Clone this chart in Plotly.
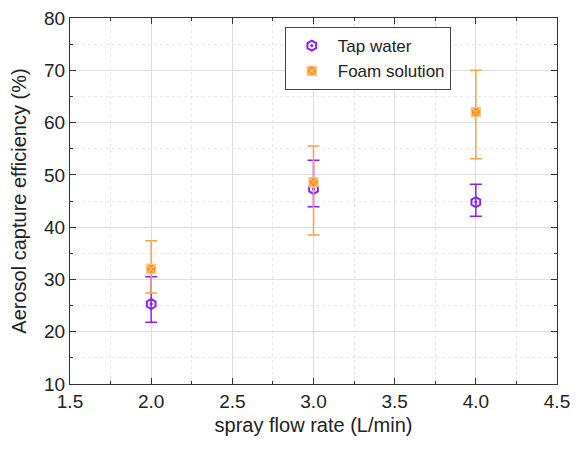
import plotly.graph_objects as go

x_vals = [2.0, 3.0, 4.0]
tap_y = [25.3, 47.3, 44.8]
tap_err_plus = [5.2, 5.5, 3.4]
tap_err_minus = [3.5, 3.4, 2.7]
foam_y = [32.0, 48.6, 62.0]
foam_err_plus = [5.4, 6.9, 8.0]
foam_err_minus = [4.6, 10.1, 8.9]

FONT = "Liberation Sans, Arial"

fig = go.Figure()
fig.add_trace(go.Scatter(
    x=x_vals, y=tap_y, mode="markers", name="Tap water",
    marker=dict(symbol="hexagon-open-dot", size=10, color="#8B1EFF", line=dict(width=2, color="#8B1EFF")),
    error_y=dict(type="data", symmetric=False, array=tap_err_plus, arrayminus=tap_err_minus,
                 color="#8B1EFF", thickness=1.5, width=6),
))
fig.add_trace(go.Scatter(
    x=x_vals, y=foam_y, mode="markers", name="Foam solution",
    marker=dict(symbol="square-x", size=9, color="#FF8C1A", line=dict(width=1.2, color="#FFC27A")),
    error_y=dict(type="data", symmetric=False, array=foam_err_plus, arrayminus=foam_err_minus,
                 color="#FFA040", thickness=1.5, width=6),
))

axis_common = dict(
    showline=True, linecolor="#333", linewidth=1.2, mirror="ticks",
    ticks="inside", ticklen=6, tickcolor="#333",
    showgrid=True, gridcolor="#dddddd", gridwidth=1,
    zeroline=False, automargin=False, ticklabeloverflow="allow",
    tickfont=dict(size=19, color="#222", family=FONT),
)
fig.update_xaxes(range=[1.5, 4.5], dtick=0.5, tickformat=".1f",
                 title=dict(text="spray flow rate (L/min)", font=dict(size=20, color="#222", family=FONT), standoff=7),
                 minor=dict(dtick=0.25, ticks="inside", ticklen=3, tickcolor="#333",
                            showgrid=True, gridcolor="#e6e6e6", griddash="dot"),
                 **axis_common)
fig.update_yaxes(range=[10, 80], dtick=10,
                 title=dict(text="Aerosol capture efficiency (%)", font=dict(size=20, color="#222", family=FONT), standoff=11),
                 minor=dict(dtick=5, ticks="inside", ticklen=3, tickcolor="#333",
                            showgrid=True, gridcolor="#e6e6e6", griddash="dot"),
                 **axis_common)
fig.update_layout(
    width=580, height=450,
    margin=dict(l=62, r=31, t=10, b=74),
    plot_bgcolor="white", paper_bgcolor="white",
    font=dict(family=FONT, color="#222"),
    legend=dict(x=0.441, y=0.975, xanchor="left", yanchor="top",
                bordercolor="#444", borderwidth=1, bgcolor="white",
                font=dict(size=17, family=FONT), tracegroupgap=0, itemwidth=42),
)
fig.write_html("out.html")
